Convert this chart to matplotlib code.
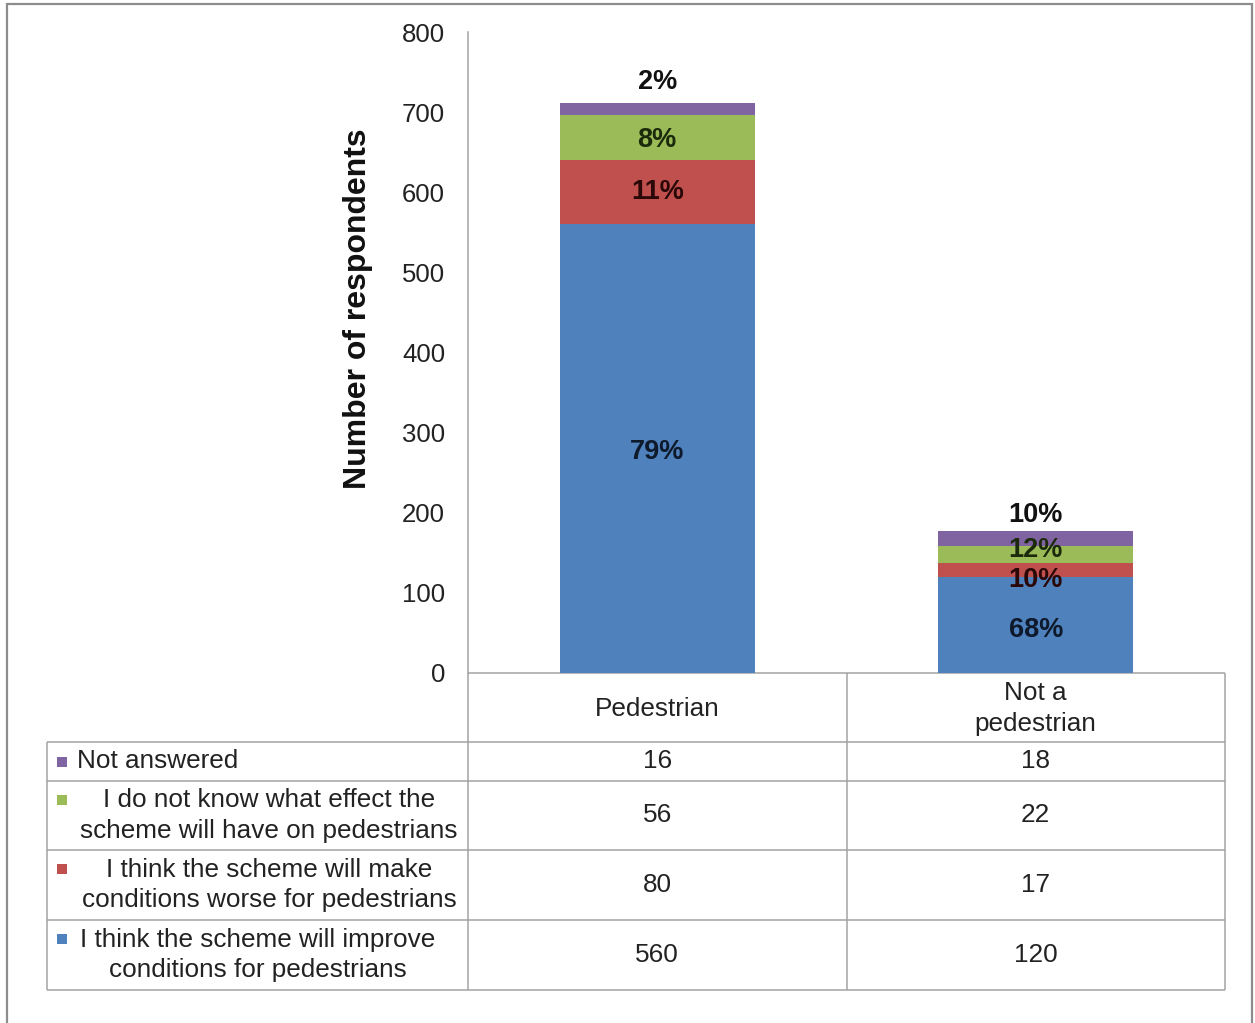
import matplotlib
matplotlib.use("Agg")
import matplotlib.pyplot as plt
from matplotlib.transforms import blended_transform_factory
from matplotlib.patches import Rectangle

plt.rcParams['font.family'] = ['Liberation Sans', 'DejaVu Sans']

# ---- data -------------------------------------------------------------
categories = ["Pedestrian", "Not a\npedestrian"]
series_names = [
    "I think the scheme will improve\nconditions for pedestrians",
    "I think the scheme will make\nconditions worse for pedestrians",
    "I do not know what effect the\nscheme will have on pedestrians",
    "Not answered",
]
improve = [560, 120]
worse = [80, 17]
dont_know = [56, 22]
not_answered = [16, 18]
series_values = [improve, worse, dont_know, not_answered]
yticks = [0, 100, 200, 300, 400, 500, 600, 700, 800]

# ---- styles -----------------------------------------------------------
series_colors = ["#4F81BD", "#C0504D", "#9BBB59", "#8064A2"]
label_colors = ["#0e1a2c", "#2a0808", "#1b2a0b", "#111111"]
# vertical nudge (pixels, up positive) of each percentage label
label_nudge_px = [[-3, 0, -2, 27], [-5, -10, 4, 23]]
grid_col = "#a3a3a3"
line_w = 1.1
fs_table = 18.8
W, H = 1255, 1023

fig = plt.figure(figsize=(W / 100, H / 100), dpi=100)

# full-figure layer in pixel units for the frame and data table
lay = fig.add_axes([0, 0, 1, 1])
lay.set_xlim(0, W)
lay.set_ylim(H, 0)
lay.axis("off")

# plot area
x0, x1, y_top, y_base = 468, 1225, 32, 673
ax = fig.add_axes([x0 / W, (H - y_base) / H, (x1 - x0) / W, (y_base - y_top) / H])
ax.patch.set_alpha(0)

xs = list(range(len(categories)))
bottoms = [0] * len(categories)
totals = [sum(v[i] for v in series_values) for i in xs]
for s, vals in enumerate(series_values):
    ax.bar(xs, vals, width=0.515, bottom=bottoms, color=series_colors[s],
           edgecolor="none", zorder=2)
    for i in xs:
        pct = round(vals[i] / totals[i] * 100)
        ax.annotate(f"{pct}%", (i, bottoms[i] + vals[i] / 2),
                    xytext=(0, label_nudge_px[i][s] * 0.72),
                    textcoords="offset points", ha="center", va="center",
                    fontsize=19.5, fontweight="bold", color=label_colors[s],
                    zorder=3)
    bottoms = [bottoms[i] + vals[i] for i in xs]

ax.set_xlim(-0.5, len(categories) - 0.5)
ax.set_ylim(0, 800)
ax.set_yticks(yticks)
ax.set_yticklabels([str(t) for t in yticks], fontsize=18.5, color="#222222")
ax.tick_params(axis="y", length=0, pad=16.5)
ax.set_xticks([])
for side in ("top", "right", "bottom"):
    ax.spines[side].set_visible(False)
ax.spines["left"].set_color(grid_col)
ax.spines["left"].set_linewidth(line_w)

lay.text(358, 309, "Number of respondents", rotation=90, ha="center",
         va="center", fontsize=23, fontweight="bold", color="#111111")

# ---- data table -------------------------------------------------------
tl, row_edges = 47, [742, 781, 850, 920, 990]
mid = 847
kw = dict(color=grid_col, lw=line_w, solid_capstyle="butt")
lay.plot([x0, x1], [y_base, y_base], **kw)
for y in row_edges:
    lay.plot([tl, x1], [y, y], **kw)
lay.plot([x0, x0], [y_base, row_edges[-1]], **kw)
lay.plot([mid, mid], [y_base, row_edges[-1]], **kw)
lay.plot([x1, x1], [y_base, row_edges[-1]], **kw)
lay.plot([tl, tl], [row_edges[0], row_edges[-1]], **kw)

bt = blended_transform_factory(ax.transData, lay.transData)
for i, cat in enumerate(categories):
    lay.text(i, (y_base + row_edges[0]) / 2 + 1, cat, transform=bt,
             ha="center", va="center", fontsize=fs_table, color="#222222",
             linespacing=1.33)

# rows run from the top series down
for r, s in enumerate(reversed(range(len(series_values)))):
    top, bot = row_edges[r], row_edges[r + 1]
    yc = (top + bot) / 2
    name = series_names[s]
    multi = "\n" in name
    marker_y = yc if not multi else top + 19
    lay.add_patch(Rectangle((57, marker_y - 5), 10, 10,
                            color=series_colors[s], lw=0))
    if multi:
        cx = 269 if r < 3 else 258
        lay.text(cx, yc, name, ha="center", va="center", fontsize=fs_table,
                 color="#222222", linespacing=1.33, multialignment="center")
    else:
        lay.text(77, yc, name, ha="left", va="center", fontsize=fs_table,
                 color="#222222")
    for i in xs:
        lay.text(i, yc, str(series_values[s][i]), transform=bt,
                 ha="center", va="center", fontsize=fs_table, color="#222222")

# outer frame
fk = dict(color="#8c8c8c", lw=1.6, solid_capstyle="butt")
lay.plot([6.5, 6.5], [3, H], **fk)
lay.plot([6.5, 1251.5], [3.5, 3.5], **fk)
lay.plot([1251.5, 1251.5], [3, H], **fk)

fig.savefig("out.png", dpi=100)
